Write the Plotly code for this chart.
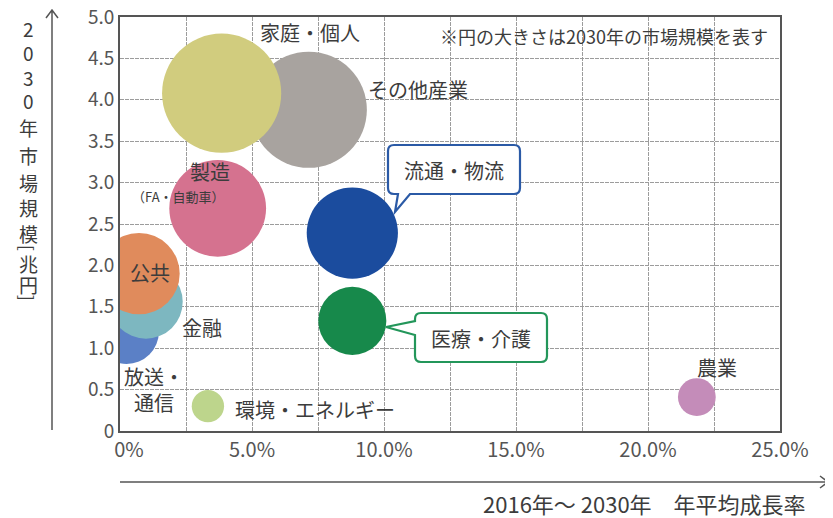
import plotly.graph_objects as go

# ---------------- data ----------------
categories = ['その他産業', '家庭・個人', '製造（FA・自動車）', '流通・物流', '医療・介護',
              '放送・通信', '金融', '公共', '環境・エネルギー', '農業']
growth_rate = [7.15, 3.85, 3.7, 8.8, 8.8, 0.25, 0.98, 0.72, 3.33, 21.85]   # %
market_2030 = [3.88, 4.08, 2.69, 2.39, 1.33, 1.20, 1.56, 1.90, 0.30, 0.41]  # 兆円
bubble_colors = ['#a8a39f', '#d1cc7e', '#d5728f', '#1b4c9e', '#17894b',
                 '#5b80c6', '#7db7c0', '#e08b5c', '#bdd58c', '#c48cb9']

x_tickvals = [0, 2.5, 5, 7.5, 10, 12.5, 15, 17.5, 20, 22.5, 25]
x_ticktext = ['\u00a0\u00a0\u00a0\u00a00%', '', '5.0%', '', '10.0%', '', '15.0%', '', '20.0%', '', '25.0%']
y_tickvals = [0, 0.5, 1, 1.5, 2, 2.5, 3, 3.5, 4, 4.5, 5]
y_ticktext = ['0', '0.5', '1.0', '1.5', '2.0', '2.5', '3.0', '3.5', '4.0', '4.5', '5.0']

# label placement (data coords)
plain_labels = [
    ('家庭・個人', 7.2, 4.81, 20),
    ('その他産業', 11.3, 4.12, 20),
    ('製造', 3.4, 3.13, 20),
    ('（FA・自動車）', 2.2, 2.83, 13),
    ('公共', 1.15, 1.92, 20),
    ('金融', 3.1, 1.25, 20),
    ('放送・<br>通信', 1.3, 0.5, 20),
    ('環境・エネルギー', 7.4, 0.26, 20),
    ('農業', 22.6, 0.77, 20),
]

FONT = 'Noto Sans CJK JP'
TXT = '#3c3c3c'
BLUE_LINE = '#2b5aa6'
GREEN_LINE = '#23965a'
# page has an 8px body margin; plot area in screen pixels is [120,780] x [17,431]
W, H = 825, 510
L, R, T, B = 112, 53, 9, 87
PX0, PX1, PY0, PY1 = 120, 780, 17, 431


def px(x):
    return (x - PX0) / (PX1 - PX0)


def py(y):
    return (PY1 - y) / (PY1 - PY0)


def callout_path(x0, y0, x1, y1, pointer, r=6):
    """Rounded box (screen px) with a pointer; pointer = (side, a, b, tipx, tipy)."""
    side, a, b, tx, ty = pointer
    P = lambda X, Y: f'{px(X)},{py(Y)}'
    d = [f'M {P(x0 + r, y0)}', f'L {P(x1 - r, y0)}', f'Q {P(x1, y0)} {P(x1, y0 + r)}',
         f'L {P(x1, y1 - r)}', f'Q {P(x1, y1)} {P(x1 - r, y1)}']
    if side == 'bottom':
        d += [f'L {P(b, y1)}', f'L {P(tx, ty)}', f'L {P(a, y1)}']
    d += [f'L {P(x0 + r, y1)}', f'Q {P(x0, y1)} {P(x0, y1 - r)}']
    if side == 'left':
        d += [f'L {P(x0, b)}', f'L {P(tx, ty)}', f'L {P(x0, a)}']
    d += [f'L {P(x0, y0 + r)}', f'Q {P(x0, y0)} {P(x0 + r, y0)}', 'Z']
    return ' '.join(d)


fig = go.Figure()
fig.add_trace(go.Scatter(
    x=growth_rate, y=market_2030, mode='markers', text=categories,
    marker=dict(size=market_2030, sizemode='area', sizeref=1 / 1740,
                color=bubble_colors, opacity=1, line=dict(width=0)),
    hoverinfo='text', showlegend=False, cliponaxis=True))

annotations = []
for txt, x, y, s in plain_labels:
    annotations.append(dict(x=x, y=y, xref='x', yref='y', text=txt, showarrow=False,
                            font=dict(family=FONT, size=s, color=TXT)))

# callout texts
annotations.append(dict(x=px(454), y=py(170), xref='paper', yref='paper', text='流通・物流',
                        xanchor='center', yanchor='middle', showarrow=False,
                        font=dict(family=FONT, size=20, color=TXT)))
annotations.append(dict(x=px(481), y=py(338), xref='paper', yref='paper', text='医療・介護',
                        xanchor='center', yanchor='middle', showarrow=False,
                        font=dict(family=FONT, size=20, color=TXT)))

# note
annotations.append(dict(x=px(770), y=py(36), xref='paper', yref='paper',
                        xanchor='right', yanchor='middle',
                        text='※円の大きさは2030年の市場規模を表す', showarrow=False,
                        font=dict(family=FONT, size=18, color=TXT)))

# vertical y-axis title (one glyph per position)
ytitle_chars = ['2', '0', '3', '0', '年', '市', '場', '規', '模', '[', '兆', '円', ']']
ytitle_pos = [28, 52, 77, 100, 128, 155, 182, 207, 233, 248, 263, 284, 298]
for ch, yy in zip(ytitle_chars, ytitle_pos):
    rot = 90 if ch in '[]' else 0
    annotations.append(dict(x=px(28), y=py(yy), xref='paper', yref='paper',
                            xanchor='center', yanchor='middle', textangle=rot,
                            text=ch, showarrow=False,
                            font=dict(family=FONT, size=19 if not rot else 17, color=TXT)))
annotations.append(dict(x=px(808), y=py(503), xref='paper', yref='paper',
                        xanchor='right', yanchor='middle',
                        text='2016年～ 2030年　年平均成長率', showarrow=False,
                        font=dict(family=FONT, size=22, color=TXT)))

shapes = [
    dict(type='path', xref='paper', yref='paper',
         path=f'M {px(52)},{py(430)} L {px(52)},{py(10)} M {px(46)},{py(18)} L {px(52)},{py(10)} L {px(58)},{py(18)}',
         line=dict(color='#555', width=1.5)),
    dict(type='path', xref='paper', yref='paper',
         path=f'M {px(120)},{py(482)} L {px(828)},{py(482)} M {px(820)},{py(476)} L {px(828)},{py(482)} L {px(820)},{py(488)}',
         line=dict(color='#555', width=1.5)),
    dict(type='path', xref='paper', yref='paper', layer='above',
         path=callout_path(388, 145, 520, 194, ('bottom', 398, 410, 395, 212)),
         line=dict(color=BLUE_LINE, width=2.2), fillcolor='white'),
    dict(type='path', xref='paper', yref='paper', layer='above',
         path=callout_path(415, 313, 547, 362, ('left', 321, 335, 386, 327)),
         line=dict(color=GREEN_LINE, width=2.2), fillcolor='white'),
]

axis_common = dict(showgrid=True, gridcolor='#9c9c9c', griddash='4px,1px', gridwidth=1.4,
                   zeroline=False, showline=True, mirror=True, linecolor='#555', linewidth=1.8,
                   ticks='', automargin=False, fixedrange=True, ticklabeloverflow='allow')

fig.update_layout(
    width=W, height=H, margin=dict(l=L, r=R, t=T, b=B, autoexpand=False),
    paper_bgcolor='white', plot_bgcolor='white',
    font=dict(family=FONT, color='#555'),
    annotations=annotations, shapes=shapes,
    xaxis=dict(range=[0, 25], tickmode='array', tickvals=x_tickvals, ticktext=x_ticktext,
               tickfont=dict(size=20, color='#555', family=FONT), **axis_common),
    yaxis=dict(range=[0, 5], tickmode='array', tickvals=y_tickvals, ticktext=y_ticktext,
               tickfont=dict(size=19, color='#555', family=FONT), **axis_common),
)

fig.write_html('out.html')
